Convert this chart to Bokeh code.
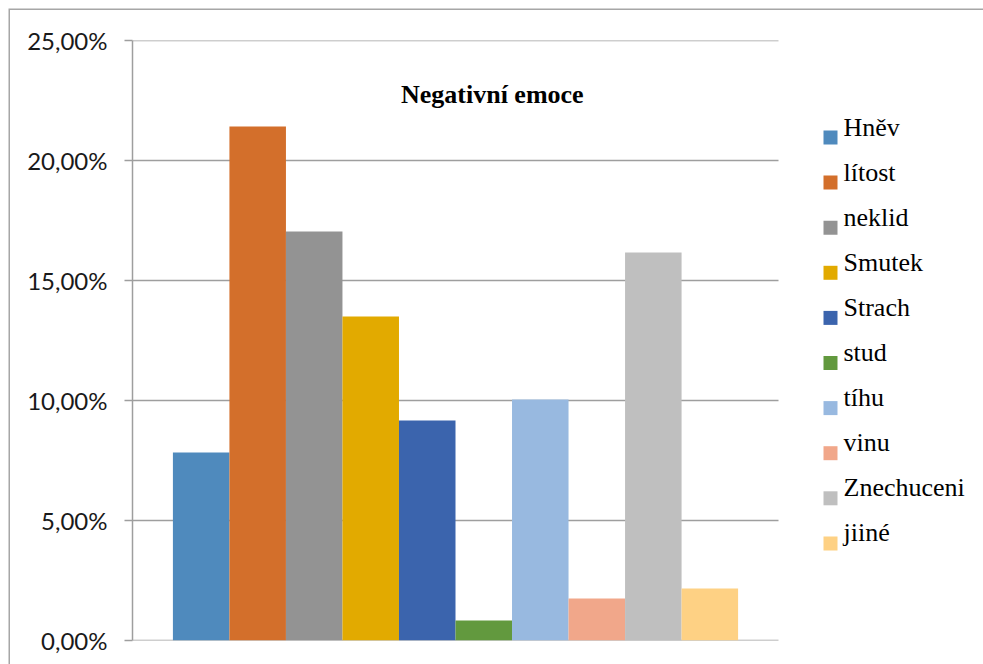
from bokeh.plotting import figure
from bokeh.models import ColumnDataSource, FixedTicker, Range1d, Label
from bokeh.embed import file_html
from bokeh.resources import INLINE

# Shares of negative emotions (percent)
emotions = ["Hněv", "lítost", "neklid", "Smutek", "Strach",
            "stud", "tíhu", "vinu", "Znechuceni", "jiiné"]
shares = [7.83, 21.42, 17.04, 13.50, 9.17, 0.83, 10.04, 1.75, 16.17, 2.17]
colors = ["#4F8ABD", "#D36F2B", "#939393", "#E2AA00", "#3B64AD",
          "#62993E", "#98B9E0", "#F1A78A", "#BFBFBF", "#FED184"]
tick_values = [0, 5, 10, 15, 20, 25]
tick_labels = ["0,00%", "5,00%", "10,00%", "15,00%", "20,00%", "25,00%"]

SERIF = "Liberation Serif"
LEGEND_FONT = "Times New Roman"

# plot area: x in [0, 1] is the bar category; the legend sits to the right of it
PLOT_PX = 646
FRAME_PX = 854
PX_PER_PCT = 24.0

gap = 1.43
bar_w = 1.0 / (len(emotions) + gap)
xs = [0.5 + (i - (len(emotions) - 1) / 2) * bar_w for i in range(len(emotions))]

source = ColumnDataSource(dict(x=xs, top=shares, color=colors, name=emotions))

p = figure(width=976, height=656, frame_width=FRAME_PX, frame_height=600,
           min_border_left=122, min_border_right=0, min_border_top=30,
           min_border_bottom=26, output_backend="svg", toolbar_location=None,
           x_range=Range1d(0, FRAME_PX / PLOT_PX), y_range=Range1d(0, 25))
p.margin = (10, 0, 0, 10)
# thin chart border along the top and left edges
p.styles = {"box-shadow": "-1.5px -1.5px 0 0 #A6A6A6"}
p.background_fill_color = "white"
p.border_fill_color = "white"
p.outline_line_color = None

# horizontal gridlines across the bar area only
p.segment(x0=[0] * len(tick_values), x1=[1] * len(tick_values),
          y0=tick_values, y1=tick_values, line_color="#9E9E9E", line_width=1.5)

p.vbar(x="x", top="top", bottom=0, width=bar_w, color="color",
       line_color=None, source=source)

p.xaxis.visible = False
p.xgrid.grid_line_color = None
p.ygrid.grid_line_color = None

ax = p.yaxis[0]
ax.ticker = FixedTicker(ticks=tick_values)
ax.major_label_overrides = {v: t for v, t in zip(tick_values, tick_labels)}
ax.axis_line_color = "#9E9E9E"
ax.axis_line_width = 1.5
ax.major_tick_line_color = "#9E9E9E"
ax.major_tick_line_width = 1.5
ax.major_tick_out = 8
ax.major_tick_in = 0
ax.minor_tick_line_color = None
ax.major_label_text_font = "Lato"
ax.major_label_text_font_size = "24px"
ax.major_label_text_color = "#1A1A1A"
ax.major_label_standoff = 17

title = Label(x=0.557, y=22.77, text="Negativní emoce", text_align="center",
              text_baseline="middle", text_font=SERIF,
              text_font_style="bold", text_font_size="26px", text_color="black")
p.add_layout(title)

# legend: coloured squares with labels, one row per emotion
row_top_px = 137 - 40          # first row centre below the top of the plot
row_step_px = 45.1
leg_y = [25 - (row_top_px + i * row_step_px) / PX_PER_PCT for i in range(len(emotions))]
leg_src = ColumnDataSource(dict(
    xm=[698 / PLOT_PX] * len(emotions),
    y=leg_y, color=colors))
p.scatter(x="xm", y="y", marker="square", size=14, color="color",
          line_color=None, source=leg_src)
# labels sit on their baseline, a few px below the row centre
for name, y in zip(emotions, leg_y):
    p.add_layout(Label(x=711 / PLOT_PX, y=y - 4 / PX_PER_PCT, text=name,
                       text_font=LEGEND_FONT, text_font_style="normal",
                       text_font_size="26px", text_color="black"))

open("out.html", "w").write(file_html(p, INLINE))
